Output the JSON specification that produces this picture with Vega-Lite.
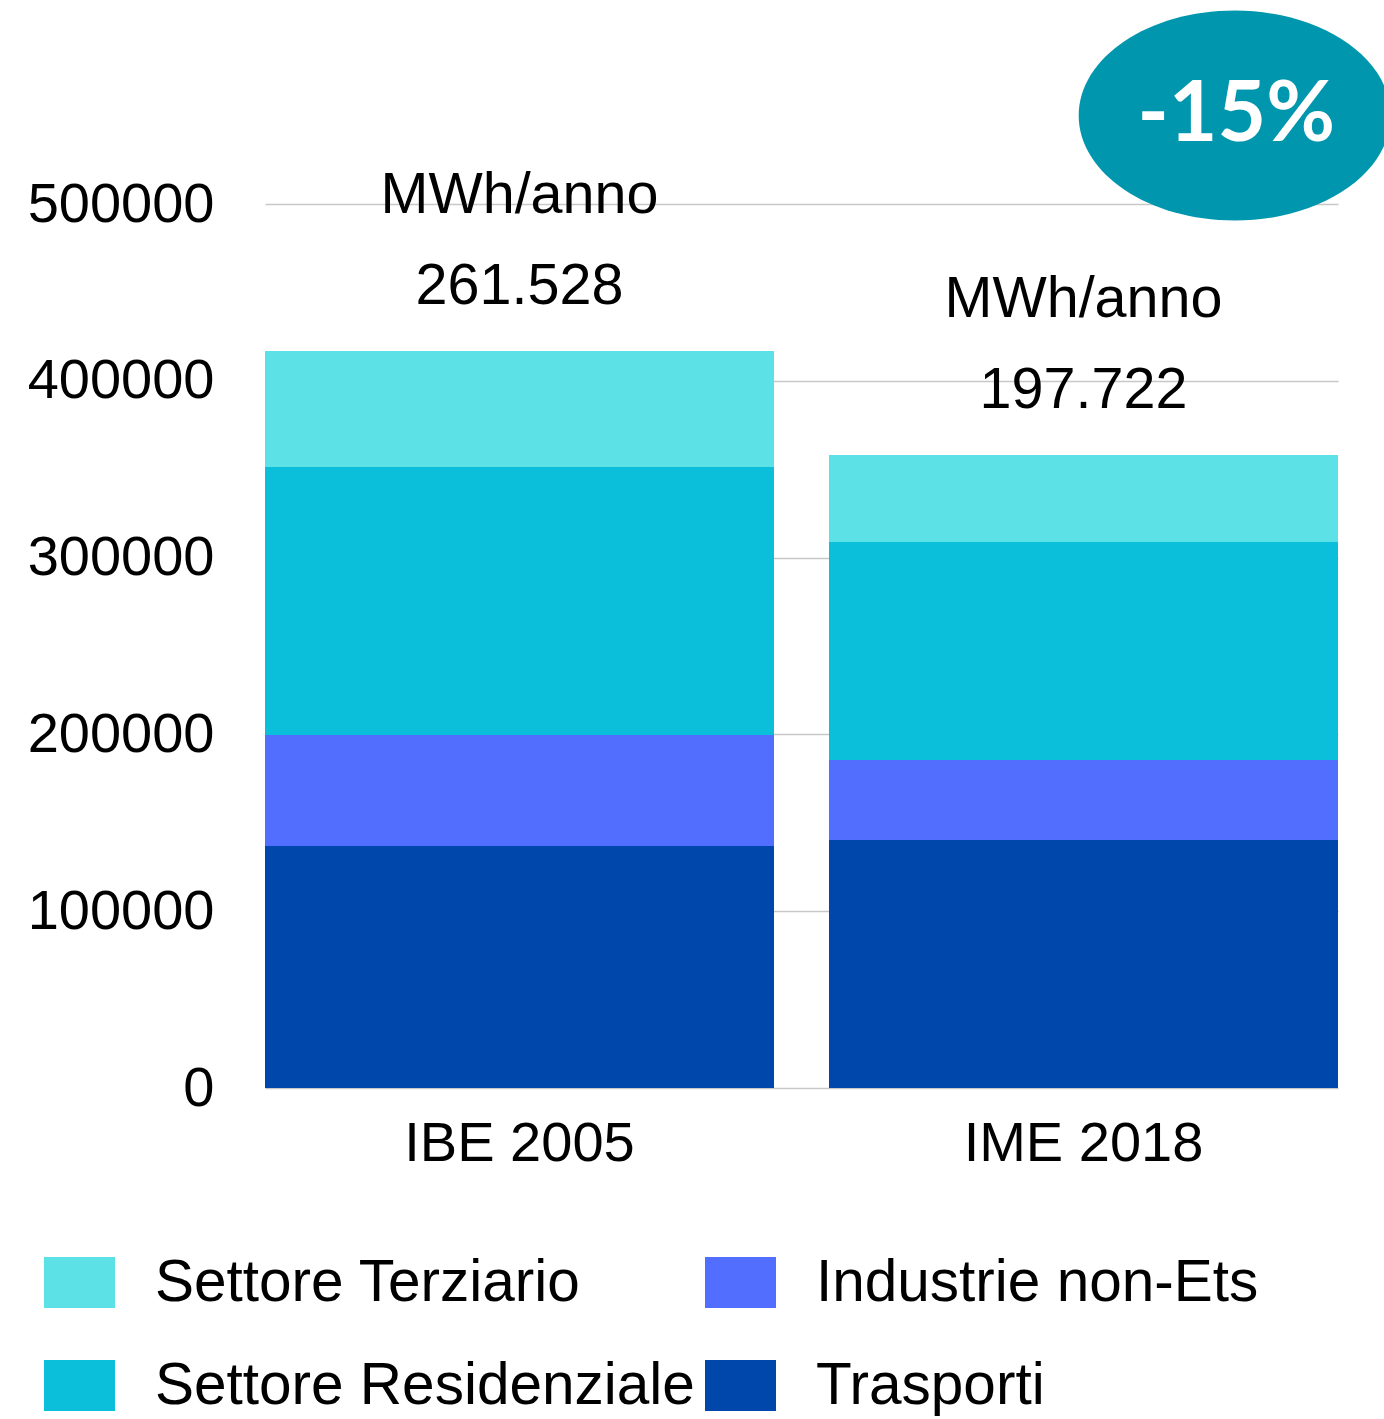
{
  "$schema": "https://vega.github.io/schema/vega-lite/v6.json",
  "width": 1073,
  "height": 884,
  "autosize": {"type": "none"},
  "padding": {"left": 265, "top": 204, "right": 46, "bottom": 331},
  "background": "white",
  "config": {
    "view": {"stroke": null},
    "font": "Liberation Sans"
  },
  "datasets": {
    "consumi": [
      {"periodo": "IBE 2005", "settore": "Trasporti", "ordine": 1, "mwh": 136900},
      {"periodo": "IBE 2005", "settore": "Industrie non-Ets", "ordine": 2, "mwh": 62800},
      {"periodo": "IBE 2005", "settore": "Settore Residenziale", "ordine": 3, "mwh": 151600},
      {"periodo": "IBE 2005", "settore": "Settore Terziario", "ordine": 4, "mwh": 65600},
      {"periodo": "IME 2018", "settore": "Trasporti", "ordine": 1, "mwh": 140300},
      {"periodo": "IME 2018", "settore": "Industrie non-Ets", "ordine": 2, "mwh": 45200},
      {"periodo": "IME 2018", "settore": "Settore Residenziale", "ordine": 3, "mwh": 123300},
      {"periodo": "IME 2018", "settore": "Settore Terziario", "ordine": 4, "mwh": 49200}
    ],
    "etichette": [
      {"periodo": "IBE 2005", "totale": 416900, "testo": "MWh/anno\n261.528"},
      {"periodo": "IME 2018", "totale": 358000, "testo": "MWh/anno\n197.722"}
    ],
    "variazione": [
      {"periodo": "IME 2018", "testo": "-15%"}
    ]
  },
  "layer": [
    {
      "data": {"name": "consumi"},
      "mark": {"type": "bar"},
      "encoding": {
        "x": {
          "field": "periodo", "type": "nominal", "title": null,
          "scale": {"paddingInner": 0.0975, "paddingOuter": 0},
          "axis": {
            "domain": false, "ticks": false, "tickSize": 0, "labelAngle": 0,
            "labelFont": "Liberation Sans", "labelFontSize": 56, "labelLimit": 0,
            "labelColor": "black", "labelPadding": 28
          }
        },
        "y": {
          "field": "mwh", "type": "quantitative", "aggregate": "sum", "title": null,
          "stack": "zero",
          "scale": {"domain": [0, 500000], "nice": false},
          "axis": {
            "values": [0, 100000, 200000, 300000, 400000, 500000],
            "format": "d", "domain": false, "ticks": false, "tickSize": 0,
            "labelFont": "Liberation Sans", "labelFontSize": 56, "labelLimit": 0,
            "labelColor": "black", "labelPadding": 51,
            "gridColor": "#C8C8C8", "gridWidth": 1.5
          }
        },
        "color": {
          "field": "settore", "type": "nominal", "title": null,
          "scale": {
            "domain": ["Settore Terziario", "Industrie non-Ets", "Settore Residenziale", "Trasporti"],
            "range": ["#5CE1E6", "#516EFF", "#0BBFDB", "#0047AB"]
          },
          "legend": {
            "orient": "none", "legendX": -221, "legendY": 1043,
            "direction": "horizontal", "columns": 2,
            "symbolType": "M-1,-0.72H1V0.72H-1Z", "symbolSize": 5041,
            "symbolStrokeWidth": 0,
            "labelFont": "Liberation Sans", "labelFontSize": 58.5,
            "labelColor": "black", "labelOffset": 40, "labelLimit": 0,
            "columnPadding": 10, "rowPadding": 38
          }
        },
        "order": {"field": "ordine", "type": "quantitative"}
      }
    },
    {
      "data": {"name": "etichette"},
      "mark": {
        "type": "text", "baseline": "alphabetic", "align": "center",
        "lineBreak": "\n", "lineHeight": 91, "dy": -138,
        "font": "Liberation Sans", "fontSize": 57.5, "color": "black"
      },
      "encoding": {
        "x": {"field": "periodo", "type": "nominal"},
        "y": {"field": "totale", "type": "quantitative"},
        "text": {"field": "testo"}
      }
    },
    {
      "data": {"name": "variazione"},
      "mark": {
        "type": "point", "filled": true, "opacity": 1, "clip": false,
        "shape": "M-1,0A1,0.673 0 1,0 1,0A1,0.673 0 1,0 -1,0Z",
        "size": 97344, "color": "#0096AE"
      },
      "encoding": {
        "x": {"field": "periodo", "type": "nominal", "bandPosition": 0.797},
        "y": {"datum": 550000, "type": "quantitative"}
      }
    },
    {
      "data": {"name": "variazione"},
      "mark": {
        "type": "text", "baseline": "middle", "align": "center",
        "font": "Lato", "fontWeight": "bold", "fontSize": 84, "color": "white"
      },
      "encoding": {
        "x": {"field": "periodo", "type": "nominal", "bandPosition": 0.8},
        "y": {"datum": 550000, "type": "quantitative"},
        "text": {"field": "testo"}
      }
    }
  ]
}
